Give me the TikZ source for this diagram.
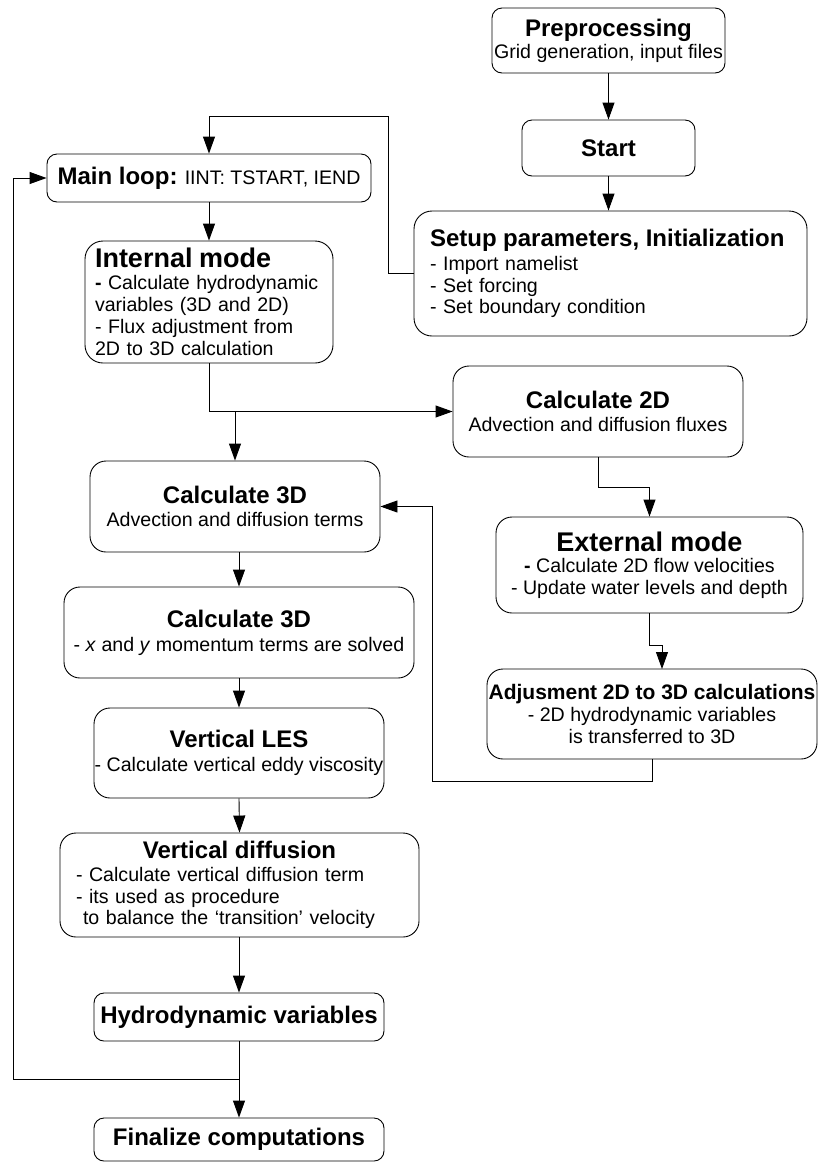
\documentclass[tikz,border=0pt]{standalone}
\usepackage{fontspec}
\setmainfont{Liberation Sans}
\usetikzlibrary{arrows.meta}
\newcommand{\bodyf}{\fontsize{19.6}{21.7}\selectfont}
\newcommand{\ttlf}{\fontsize{24}{24}\selectfont\bfseries}
\newcommand{\bigttl}{\fontsize{27}{27}\selectfont\bfseries}
\newcommand{\adjttl}{\fontsize{21}{21}\selectfont\bfseries}
\begin{document}
\begin{tikzpicture}[x=1pt,y=-1pt,
  box/.style={draw, line width=0.9pt, rounded corners=#1, inner sep=0pt, font=\bodyf, align=center},
  box/.default=16pt,
  conn/.style={line width=0.9pt, -{Triangle[length=17pt,width=12pt]}}]
\useasboundingbox (0,0) rectangle (818,1163);

\node[box=10pt, minimum width=233pt, minimum height=65pt] (pre) at (608.5,40.5)
  {{\ttlf Preprocessing}\\Grid generation, input files};
\node[box=10pt, minimum width=173pt, minimum height=56pt] (start) at (608.5,148)
  {\ttlf Start};
\node[box=18pt, minimum width=393pt, minimum height=125pt, text width=361pt, align=left] (setup) at (610.5,273.5)
  {{\ttlf Setup parameters, Initialization}\\[2pt]- Import namelist\\- Set forcing\\- Set boundary condition};
\node[box=10pt, minimum width=324pt, minimum height=48pt] (main) at (209,178)
  {{\ttlf Main loop:} IINT: TSTART, IEND};
\node[box=18pt, minimum width=248pt, minimum height=122pt, text width=228pt, align=left] (internal) at (209,302)
  {{\bigttl Internal mode}\\{\bfseries -} Calculate hydrodynamic\\[0.5pt]variables (3D and 2D)\\[0.5pt]- Flux adjustment from\\[0.5pt]2D to 3D calculation};
\node[box=16pt, minimum width=290pt, minimum height=91pt] (calc2d) at (598,411.5)
  {{\ttlf Calculate 2D}\\[2pt]Advection and diffusion fluxes};
\node[box=16pt, minimum width=290pt, minimum height=91pt] (calc3da) at (235,506.5)
  {{\ttlf Calculate 3D}\\[2pt]Advection and diffusion terms};
\node[box=16pt, minimum width=350pt, minimum height=91pt] (calc3db) at (239,632.5)
  {{\ttlf Calculate 3D}\\[2pt]- \textit{x} and \textit{y} momentum terms are solved};
\node[box=16pt, minimum width=307pt, minimum height=96pt] (external) at (649.5,565)
  {{\bigttl External mode}\\{\bfseries -} Calculate 2D flow velocities\\- Update water levels and depth};
\node[box=16pt, minimum width=330pt, minimum height=90pt] (adj) at (652,714)
  {{\adjttl Adjusment 2D to 3D calculations}\\- 2D hydrodynamic variables\\is transferred to 3D};
\node[box=16pt, minimum width=290pt, minimum height=90pt] (les) at (239,753)
  {{\ttlf Vertical LES}\\[2pt]- Calculate vertical eddy viscosity};
\node[box=16pt, minimum width=359pt, minimum height=104pt, text width=327pt, align=left] (vdiff) at (239.5,885)
  {\makebox[\hsize]{\ttlf Vertical diffusion}\\[1pt]- Calculate vertical diffusion term\\- its used as procedure\\\hspace*{7pt}to balance the ‘transition’ velocity};
\node[box=10pt, minimum width=290pt, minimum height=48pt] (hydro) at (239,1017)
  {\ttlf Hydrodynamic variables};
\node[box=10pt, minimum width=290pt, minimum height=43pt] (final) at (239,1139.5)
  {\ttlf Finalize computations};

\coordinate (upleft) at (388,116);
\coordinate (adjin) at (662,669);
\coordinate (jog) at (649.5,645);
\coordinate (backr) at (432,506.5);
\coordinate (loopb) at (239,1079);
\coordinate (loopl) at (13,178);

\draw[conn] (pre.south) -- (start.north);
\draw[conn] (start.south) -- (start.south |- setup.north);
\draw[conn] (setup.west) -| (upleft) -| (main.north);
\draw[conn] (main.south) -- (internal.north);
\draw[conn] (internal.south) |- (calc2d.west);
\draw[conn] (calc3da.north |- calc2d.west) -- (calc3da.north);
\draw[conn] (calc3da.south -| calc3db.north) -- (calc3db.north);
\draw[conn] (calc3db.south) -- (les.north);
\draw[conn] (les.south) -- (vdiff.north);
\draw[conn] (vdiff.south -| hydro.north) -- (hydro.north);
\draw[conn] (hydro.south) -- (final.north);
\draw[conn] (loopb) -| (loopl) -- (main.west);
\draw[conn] (calc2d.south) -- ++(0,30) -| (external.north);
\draw[conn] (external.south) -- (jog) -| (adjin);
\draw[conn] (adj.south) -- ++(0,22) -| (backr) -- (calc3da.east);
\end{tikzpicture}
\end{document}
